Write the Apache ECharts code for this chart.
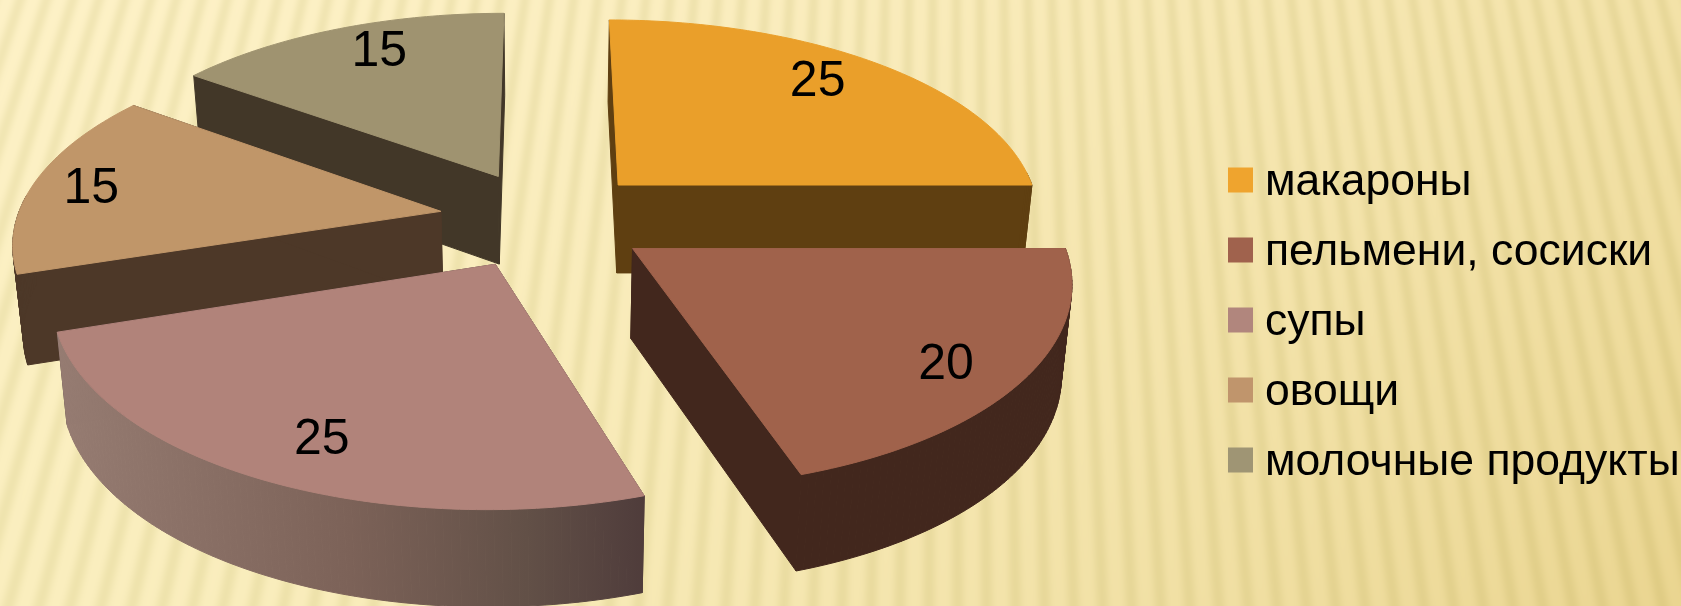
<!DOCTYPE html>
<html>
<head>
<meta charset="utf-8">
<style>html,body{margin:0;padding:0;background:#fdf1c6}#chart{width:1681px;height:606px}</style>
<script src="https://cdn.jsdelivr.net/npm/echarts@6/dist/echarts.min.js"></script>
</head>
<body>
<div id="chart"></div>
<script>
// Food shares, in percent
const categories = ['макароны', 'пельмени, сосиски', 'супы', 'овощи', 'молочные продукты'];
const values = [25, 20, 25, 15, 15];

// Per-slice styling, same order as categories
const topColors = ['#ea9f2a', '#a0624b', '#b1837a', '#c09669', '#9f9370'];
const legendColors = ['#efa42e', '#a0624d', '#b1867d', '#c0956c', '#9f9574'];
const sideColors = ['#5f3f11', '#42271d', '#4f3c3b', '#4d3828', '#423728'];
const paintOrder = [2, 4, 5, 3, 1];      // back slices first
const labelReach = [0.82, 0.83, 0.81, 0.86, 0.83];
const labelSkewDeg = [-4, 1.7, -2, 0, 3.5];
const labelDrop = 4;

// Perspective camera for the tilted disc, in pixels and radius units
const cam = { cx: 545, cy: 219, sx: 424, sy: 197, persp: 0.14, explode: 0.25,
              height: 89, heightPersp: 0.07, floorScale: 0.98 };

function topPoint(x, z) {
  const w = 1 - cam.persp * z;
  return [cam.cx + cam.sx * x / w, cam.cy + cam.sy * z / w];
}
function bottomPoint(x, z) {
  const p = topPoint(x, z);
  return [cam.cx + (p[0] - cam.cx) * cam.floorScale, p[1] + cam.height / (1 - cam.heightPersp * z)];
}

const total = values.reduce((a, b) => a + b, 0);

function renderSlice(index, params, api) {
  const value = api.value(0);
  const before = values.slice(0, index).reduce((a, b) => a + b, 0);
  const a0 = before / total * Math.PI * 2;
  const a1 = a0 + value / total * Math.PI * 2;
  const mid = (a0 + a1) / 2;
  const ox = cam.explode * Math.sin(mid), oz = -cam.explode * Math.cos(mid);
  const rimXZ = t => [ox + Math.sin(t), oz - Math.cos(t)];

  const rimTop = [], rimBottom = [], rimAngle = [];
  const steps = Math.max(8, Math.round((a1 - a0) * 60));
  for (let i = 0; i <= steps; i++) {
    const t = a0 + (a1 - a0) * i / steps;
    const c = rimXZ(t);
    rimAngle.push(t);
    rimTop.push(topPoint(c[0], c[1]));
    rimBottom.push(bottomPoint(c[0], c[1]));
  }
  const apexTop = topPoint(ox, oz), apexBottom = bottomPoint(ox, oz);
  const side = sideColors[index];
  const poly = (points, fill) => ({
    type: 'polygon',
    shape: { points: points },
    style: { fill: fill, stroke: fill, lineWidth: 1 }
  });

  // The outer wall of the front slice is lit from the left
  const rimXs = rimTop.map(p => p[0]);
  const wallFill = index === 2
    ? { type: 'linear', global: true, x: Math.min.apply(null, rimXs), y: 0, x2: Math.max.apply(null, rimXs), y2: 0,
        colorStops: [
        { offset: 0, color: '#967c72' },
        { offset: 0.5, color: '#7c6258' },
        { offset: 0.8, color: '#625047' },
        { offset: 1, color: '#4f3c3b' }] }
    : side;

  const children = [
    poly([apexTop, rimTop[0], rimBottom[0], apexBottom], side),
    poly([apexTop, rimTop[steps], rimBottom[steps], apexBottom], side)
  ];
  // Wall is built from narrow quads so it stays solid where the rim turns back on itself;
  // quads on the far side of the disc are hidden by the top face and skipped
  for (let i = 0; i < steps; i++) {
    if (Math.cos(rimAngle[i]) > 0.08) continue;
    children.push(poly([rimTop[i], rimTop[i + 1], rimBottom[i + 1], rimBottom[i]], wallFill));
  }
  children.push(poly([apexTop].concat(rimTop), topColors[index]));

  const labelAngle = mid + labelSkewDeg[index] * Math.PI / 180;
  const labelAt = topPoint(ox + labelReach[index] * Math.sin(labelAngle), oz - labelReach[index] * Math.cos(labelAngle));
  children.push({
    type: 'text',
    style: {
      x: labelAt[0], y: labelAt[1] + labelDrop, text: String(value),
      fill: '#000', font: '50px "Liberation Sans", sans-serif',
      align: 'center', verticalAlign: 'middle'
    }
  });
  return { type: 'group', children: children };
}

// Soft fan of pale stripes behind the chart, darkening toward the lower right
function stripedBackdrop(width, height) {
  const canvas = document.createElement('canvas');
  canvas.width = width; canvas.height = height;
  const ctx = canvas.getContext('2d');
  const img = ctx.createImageData(width, height);
  const tl = [253, 241, 198], tr = [243, 226, 168], bl = [250, 238, 190], br = [234, 213, 144];
  const vx = 950, vy = -2800, pitch = 0.0085;
  let k = 0;
  for (let y = 0; y < height; y++) {
    const v = y / height;
    for (let x = 0; x < width; x++) {
      const h = Math.pow(x / width, 1.6);
      const phase = Math.atan2(x - vx, y - vy) / pitch * Math.PI * 2;
      const wave = 0.5 + 0.5 * Math.sin(phase);
      const shade = 1 - 0.045 * Math.pow(wave, 1.6);
      for (let c = 0; c < 3; c++) {
        const base = (tl[c] * (1 - h) + tr[c] * h) * (1 - v) + (bl[c] * (1 - h) + br[c] * h) * v;
        img.data[k++] = base * (c === 2 ? shade * shade : shade);
      }
      img.data[k++] = 255;
    }
  }
  ctx.putImageData(img, 0, 0);
  return canvas;
}

const chart = echarts.init(document.getElementById('chart'), null, { renderer: 'canvas' });
chart.setOption({
  animation: false,
  backgroundColor: { image: stripedBackdrop(1681, 606), repeat: 'no-repeat' },
  legend: {
    data: categories,
    orient: 'vertical',
    left: 1228,
    top: 160,
    padding: 0,
    icon: 'rect',
    itemWidth: 25,
    itemHeight: 25,
    itemGap: 25,
    selectedMode: false,
    formatter: '{t|{name}}',
    textStyle: {
      color: '#000', fontSize: 44.5, fontFamily: '"Liberation Sans", sans-serif',
      padding: [0, 0, 0, 7],
      rich: { t: { fontSize: 44.5, fontFamily: '"Liberation Sans", sans-serif', color: '#000', padding: [5, 0, 0, 0] } }
    }
  },
  series: categories.map((name, i) => ({
    type: 'custom',
    name: name,
    coordinateSystem: 'none',
    z: paintOrder[i],
    silent: true,
    itemStyle: { color: legendColors[i] },
    data: [[values[i]]],
    renderItem: (params, api) => renderSlice(i, params, api)
  }))
});
</script>
</body>
</html>
